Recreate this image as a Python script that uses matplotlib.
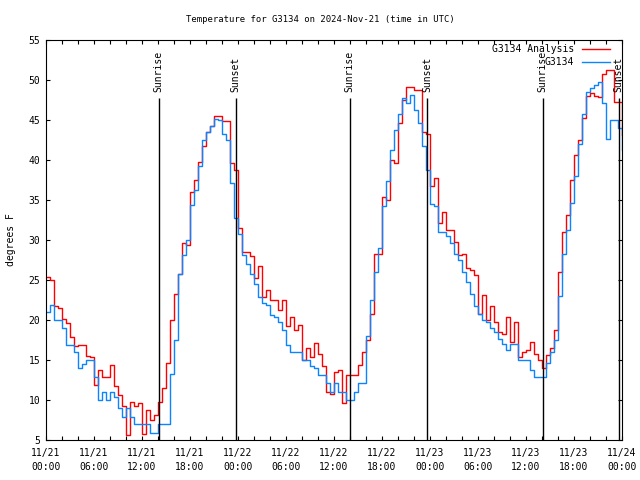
import numpy as np
import matplotlib
matplotlib.use("Agg")
import matplotlib.pyplot as plt
from matplotlib.ticker import MultipleLocator

# ---------------- DATA ----------------
# half-hourly samples, hours since 2024-11-21 00:00 UTC
hours = np.arange(0, 72.5, 0.5)

analysis = [
    25.4, 25.0, 21.7, 21.5, 20.1, 19.6, 17.9, 16.8, 16.9, 16.9, 15.5, 15.4,
    11.9, 13.8, 12.9, 12.9, 14.4, 11.7, 10.6, 9.2, 5.6, 9.8, 9.2, 9.6,
    5.8, 8.8, 7.5, 8.1, 9.8, 11.5, 14.6, 20.0, 23.3, 25.8, 29.6, 29.4,
    36.0, 37.5, 39.8, 41.7, 43.5, 44.2, 45.5, 45.5, 44.9, 44.9, 39.6, 38.8,
    31.5, 28.5, 28.5, 28.0, 25.2, 26.7, 22.9, 23.8, 22.5, 22.5, 21.3, 22.5,
    19.2, 20.4, 18.8, 19.4, 15.0, 16.5, 15.4, 17.1, 15.8, 14.2, 11.0, 10.8,
    13.5, 13.8, 9.6, 13.1, 13.1, 13.1, 14.4, 16.0, 17.5, 20.8, 28.3, 28.3,
    35.4, 35.0, 40.0, 39.6, 44.6, 47.5, 49.1, 49.1, 48.8, 48.8, 43.5, 43.3,
    36.7, 37.7, 32.1, 33.5, 31.3, 31.3, 29.8, 28.1, 28.3, 26.5, 26.3, 25.6,
    20.8, 23.1, 20.0, 21.7, 19.8, 18.5, 18.3, 20.4, 17.3, 19.8, 15.4, 16.0,
    16.3, 17.3, 15.8, 15.0, 14.0, 15.6, 16.5, 18.8, 26.0, 31.0, 33.1, 37.5,
    40.6, 42.5, 45.2, 48.0, 48.4, 48.0, 47.9, 50.8, 51.2, 51.2, 47.2, 47.2,
    43.1,
]

observed = [
    21.0, 21.9, 20.0, 20.0, 19.0, 16.9, 16.9, 16.0, 14.0, 14.5, 15.0, 15.0,
    12.9, 10.0, 11.0, 10.0, 11.0, 10.4, 9.0, 7.9, 9.0, 7.9, 7.0, 7.0,
    7.0, 7.0, 5.9, 5.9, 7.0, 7.0, 7.0, 13.3, 17.5, 25.8, 28.1, 30.0,
    34.4, 36.3, 39.2, 42.5, 43.5, 44.2, 45.1, 45.0, 43.3, 42.5, 37.1, 32.7,
    30.8, 28.1, 27.0, 25.8, 24.5, 22.9, 22.1, 21.9, 20.6, 20.4, 19.8, 18.8,
    16.9, 16.0, 16.0, 16.0, 15.0, 15.0, 14.2, 14.0, 13.1, 13.1, 12.1, 11.0,
    12.1, 11.0, 11.0, 10.0, 10.0, 11.0, 12.1, 12.1, 18.0, 22.5, 26.0, 29.0,
    34.2, 37.4, 41.3, 43.8, 45.8, 47.7, 47.1, 48.1, 46.3, 44.6, 41.7, 38.8,
    34.5, 34.2, 31.0, 31.0, 30.5, 29.6, 28.3, 27.5, 26.0, 24.7, 23.3, 21.7,
    20.8, 20.0, 19.8, 19.0, 18.5, 17.6, 17.0, 16.3, 17.0, 17.0, 15.0, 15.0,
    15.0, 13.8, 12.9, 12.9, 12.9, 14.6, 16.0, 17.5, 23.0, 28.3, 31.2, 34.6,
    38.0, 42.0, 45.8, 48.5, 49.0, 49.4, 49.7, 47.1, 42.6, 45.0, 45.0, 44.0,
    41.2,
]

sunrise = [14.1, 38.0, 62.1]
sunset = [23.7, 47.65, 71.6]

tick_hours = [0, 6, 12, 18, 24, 30, 36, 42, 48, 54, 60, 66, 72]
tick_labels = [
    "11/21\n00:00", "11/21\n06:00", "11/21\n12:00", "11/21\n18:00",
    "11/22\n00:00", "11/22\n06:00", "11/22\n12:00", "11/22\n18:00",
    "11/23\n00:00", "11/23\n06:00", "11/23\n12:00", "11/23\n18:00",
    "11/24\n00:00",
]
# -------------------------------------

FONT = "DejaVu Sans Mono"
FS = 7
plt.rcParams["font.family"] = FONT

fig = plt.figure(figsize=(6.4, 4.8), dpi=100)
ax = fig.add_axes([46 / 640, 1 - 440 / 480, 575.7 / 640, 400 / 480])

ax.plot(hours, analysis, drawstyle="steps-post", color="#ff0000", lw=1.0,
        label="G3134 Analysis")
ax.plot(hours, observed, drawstyle="steps-post", color="#0a84ff", lw=1.0,
        label="G3134")

for h in sunrise:
    ax.vlines(h, 5, 47.7, color="black", lw=1.0)
    ax.text(h, 48.5, "Sunrise", rotation=90, ha="center", va="bottom",
            fontsize=FS, family=FONT)
for h in sunset:
    ax.vlines(h, 5, 47.7, color="black", lw=1.0)
    ax.text(h, 48.5, "Sunset", rotation=90, ha="center", va="bottom",
            fontsize=FS, family=FONT)

ax.set_xlim(0, 72)
ax.set_ylim(5, 55)
ax.set_xticks(tick_hours)
ax.set_xticklabels(tick_labels, fontsize=FS, linespacing=1.5)
ax.xaxis.set_minor_locator(MultipleLocator(2))
ax.yaxis.set_major_locator(MultipleLocator(5))
ax.tick_params(axis="both", which="both", direction="in", top=True,
               right=True, length=3, width=0.8, labelsize=FS)
ax.tick_params(axis="x", pad=6)
ax.tick_params(axis="y", pad=4)
for s in ax.spines.values():
    s.set_linewidth(0.8)

ax.set_ylabel("degrees F", fontsize=FS, labelpad=9)
fig.text(0.5, 1 - 20 / 480, "Temperature for G3134 on 2024-Nov-21 (time in UTC)",
         ha="center", va="center", fontsize=6.4)

ax.legend(loc="upper right", bbox_to_anchor=(0.98, 0.99), frameon=False,
          markerfirst=False, fontsize=FS, handlelength=2.9,
          handletextpad=0.8, labelspacing=0.3, borderpad=0, borderaxespad=0)

fig.savefig("out.png", dpi=100)
